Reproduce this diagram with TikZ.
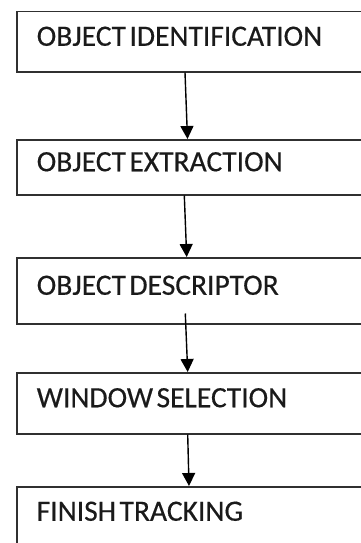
\documentclass[tikz,border=0pt]{standalone}
\usepackage{fontspec}
\setmainfont{Carlito}[FakeBold=0.4]
\usetikzlibrary{arrows.meta}
\definecolor{boxline}{HTML}{303030}
\definecolor{txt}{HTML}{1A1A1A}
\newcommand{\gp}{\hspace{3.5pt}}
\tikzset{
  stepbox/.style={draw=boxline, line width=1.5pt, rectangle, anchor=north west,
    minimum width=364pt, text width=324pt, align=left, inner xsep=20pt, inner ysep=0pt,
    text height=18.6pt, text depth=10.6pt, font=\fontsize{29.5}{32}\selectfont, text=txt},
  flow/.style={draw=black, line width=1.4pt, -{Triangle[length=13pt,width=13pt]}}
}
\begin{document}
\begin{tikzpicture}[x=1pt,y=1pt]
\useasboundingbox (0,0) rectangle (361,-543);
\node[stepbox, minimum height=60pt] (b1) at (16,-11) {OBJECT\gp IDENTIFICATION};
\node[stepbox, minimum height=55pt] (b2) at (16,-139) {OBJECT\gp EXTRACTION};
\node[stepbox, minimum height=66pt] (b3) at (16,-257) {OBJECT\gp DESCRIPTOR};
\node[stepbox, minimum height=61pt] (b4) at (16,-372) {WINDOW\gp SELECTION};
\node[stepbox, minimum height=60pt] (b5) at (16,-486) {FINISH\gp TRACKING};
\draw[flow] ([xshift=169pt]b1.south west) -- ([xshift=171.5pt]b2.north west);
\draw[flow] ([xshift=168.3pt]b2.south west) -- ([xshift=170.7pt]b3.north west);
\draw[flow] ([xshift=169.3pt,yshift=11pt]b3.south west) -- ([xshift=171.7pt]b4.north west);
\draw[flow] ([xshift=171.7pt]b4.south west) -- ([xshift=173pt]b5.north west);
\end{tikzpicture}
\end{document}
